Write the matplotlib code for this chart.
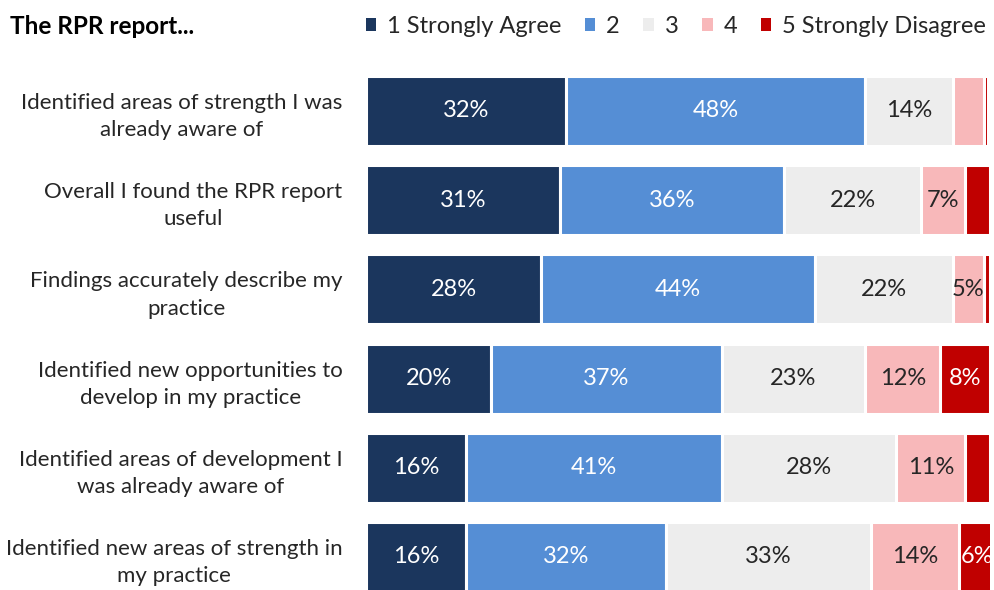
import numpy as np
import matplotlib.pyplot as plt
from matplotlib.patches import Patch

questions = [
    "Identified areas of strength I was\nalready aware of",
    "Overall I found the RPR report\nuseful",
    "Findings accurately describe my\npractice",
    "Identified new opportunities to\ndevelop in my practice",
    "Identified areas of development I\nwas already aware of",
    "Identified new areas of strength in\nmy practice",
]
categories = ["1 Strongly Agree", "2", "3", "4", "5 Strongly Disagree"]
agree1 = [32, 31, 28, 20, 16, 16]
agree2 = [48, 36, 44, 37, 41, 32]
neutral3 = [14, 22, 22, 23, 28, 33]
disagree4 = [5, 7, 5, 12, 11, 14]
disagree5 = [0.7, 4, 1, 8, 4, 6]
# which segments carry a label (tiny ones don't)
show_label = [
    [True, True, True, True, True, True],
    [True, True, True, True, True, True],
    [True, True, True, True, True, True],
    [False, True, True, True, True, True],
    [False, False, False, True, False, True],
]

colors = ["#1B365D", "#558ED5", "#EDEDED", "#F8B8BA", "#C00000"]
text_colors = ["white", "white", "#262626", "#262626", "white"]

plt.rcParams['font.family'] = ['Lato', 'DejaVu Sans']

fig = plt.figure(figsize=(9.95, 5.9), dpi=100)
ax = fig.add_axes([0.368, 0.0, 0.627, (590 - 66.4) / 590])

series = [agree1, agree2, neutral3, disagree4, disagree5]
y = np.arange(len(questions))
left = np.zeros(len(questions))
for i, vals in enumerate(series):
    vals = np.array(vals, dtype=float)
    ax.barh(y, vals, left=left, height=0.785, color=colors[i],
            edgecolor="white", linewidth=2.2)
    for j, v in enumerate(vals):
        if show_label[i][j]:
            ax.text(left[j] + v / 2, y[j], f"{int(round(v))}%", ha="center",
                    va="center", fontsize=17, color=text_colors[i])
    left += vals

ax.set_xlim(0, 100)
ax.set_ylim(5.37, -0.5)
ax.set_yticks(y)
ax.set_yticklabels(questions, fontsize=16, color="#262626", linespacing=1.45)
for lab in ax.get_yticklabels():
    lab.set_multialignment("center")
ax.tick_params(axis="y", length=0, pad=17)
ax.set_xticks([])
for s in ax.spines.values():
    s.set_visible(False)

fig.text(0.01, 0.955, "The RPR report...", fontsize=17.5, fontweight="bold",
         va="center", ha="left")

handles = [Patch(facecolor=c, edgecolor="none") for c in colors]
fig.legend(handles, categories, loc="center right", bbox_to_anchor=(1.012, 0.955),
           ncol=5, frameon=False, fontsize=17, handlelength=0.45,
           handleheight=0.45, handletextpad=0.45, columnspacing=1.0,
           labelcolor="#262626")

fig.savefig("out.png", dpi=100)
